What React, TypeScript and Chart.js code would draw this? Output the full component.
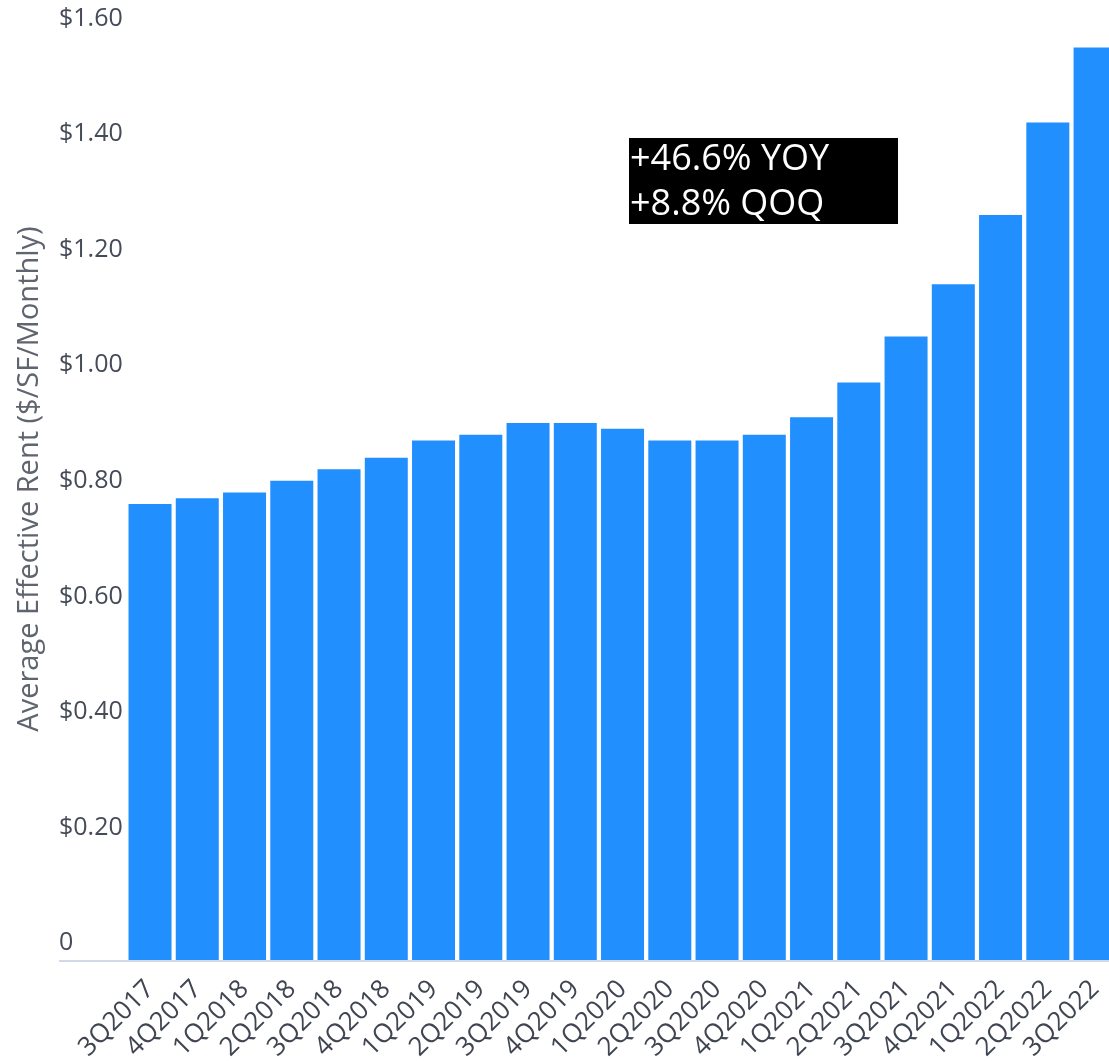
import React, { useEffect, useRef } from "react";
import { Chart, registerables } from "chart.js";

Chart.register(...registerables);

const categories = [
  "3Q2017", "4Q2017", "1Q2018", "2Q2018", "3Q2018", "4Q2018", "1Q2019",
  "2Q2019", "3Q2019", "4Q2019", "1Q2020", "2Q2020", "3Q2020", "4Q2020",
  "1Q2021", "2Q2021", "3Q2021", "4Q2021", "1Q2022", "2Q2022", "3Q2022",
];
const rentValues = [
  0.76, 0.77, 0.78, 0.80, 0.82, 0.84, 0.87,
  0.88, 0.90, 0.90, 0.89, 0.87, 0.87, 0.88,
  0.91, 0.97, 1.05, 1.14, 1.26, 1.42, 1.55,
];
const yTickValues = [0, 0.2, 0.4, 0.6, 0.8, 1.0, 1.2, 1.4, 1.6];
const yAxisTitle = "Average Effective Rent ($/SF/Monthly)";
const annotationLines = ["+46.6% YOY", "+8.8% QOQ"];

const Y_MIN = -0.029;
const Y_MAX = 1.6;
const FONT = "'Open Sans', 'DejaVu Sans', sans-serif";

const decorPlugin = {
  id: "decor",
  afterDraw(chart: any) {
    const { ctx } = chart;
    const yScale = chart.scales.y;
    const baseY = yScale.getPixelForValue(Y_MIN);
    ctx.save();
    // axis baseline
    ctx.strokeStyle = "#d3d8e6";
    ctx.lineWidth = 2;
    ctx.beginPath();
    ctx.moveTo(59, baseY + 1);
    ctx.lineTo(chart.width, baseY + 1);
    ctx.stroke();

    // y axis title
    ctx.save();
    ctx.translate(30, 479);
    ctx.rotate(-Math.PI / 2);
    ctx.fillStyle = "#5f646e";
    ctx.font = `29px ${FONT}`;
    ctx.textAlign = "center";
    ctx.textBaseline = "middle";
    ctx.fillText(yAxisTitle, 0, 0);
    ctx.restore();

    // annotation box
    ctx.fillStyle = "#000000";
    ctx.fillRect(629, 138, 269, 86);
    ctx.fillStyle = "#ffffff";
    ctx.font = `500 36px ${FONT}`;
    ctx.textAlign = "left";
    ctx.textBaseline = "middle";
    ctx.fillText(annotationLines[0], 630, 160);
    ctx.fillText(annotationLines[1], 630, 205);
    ctx.restore();
  },
};

export default function App() {
  const canvasRef = useRef<HTMLCanvasElement | null>(null);

  useEffect(() => {
    if (!canvasRef.current) return;
    const chart = new Chart(canvasRef.current, {
      type: "bar",
      data: {
        labels: categories,
        datasets: [
          {
            data: rentValues,
            backgroundColor: "#228fff",
            borderWidth: 0,
            barPercentage: 0.91,
            categoryPercentage: 1,
            base: Y_MIN,
          } as any,
        ],
      },
      options: {
        animation: false,
        responsive: true,
        maintainAspectRatio: false,
        layout: { padding: { left: 59, right: 6.3, top: 18.5, bottom: 0 } },
        plugins: {
          legend: { display: false },
          tooltip: { enabled: false },
        },
        scales: {
          x: {
            grid: { display: false },
            border: { display: false },
            ticks: {
              autoSkip: false,
              maxRotation: 45,
              minRotation: 45,
              padding: 6,
              color: "#3f4551",
              font: { family: FONT, size: 26 },
            },
            afterFit: (scale: any) => {
              scale.height = 102;
            },
          },
          y: {
            min: Y_MIN,
            max: Y_MAX,
            grid: { display: false },
            border: { display: false },
            ticks: {
              crossAlign: "far",
              color: "#454b57",
              font: { family: FONT, size: 25 },
              callback: (v: any) => (Number(v) === 0 ? "0" : "$" + Number(v).toFixed(2)),
            },
            afterBuildTicks: (scale: any) => {
              scale.ticks = yTickValues.map((v) => ({ value: v }));
            },
            afterFit: (scale: any) => {
              scale.width = 67.4;
            },
          },
        },
      },
      plugins: [decorPlugin],
    });
    return () => chart.destroy();
  }, []);

  return (
    <div
      style={{
        position: "absolute",
        left: 0,
        top: 0,
        width: 1109,
        height: 1062,
        overflow: "hidden",
        background: "#ffffff",
      }}
    >
      <div style={{ position: "relative", width: 1125, height: 1062 }}>
        <canvas ref={canvasRef} />
      </div>
    </div>
  );
}
